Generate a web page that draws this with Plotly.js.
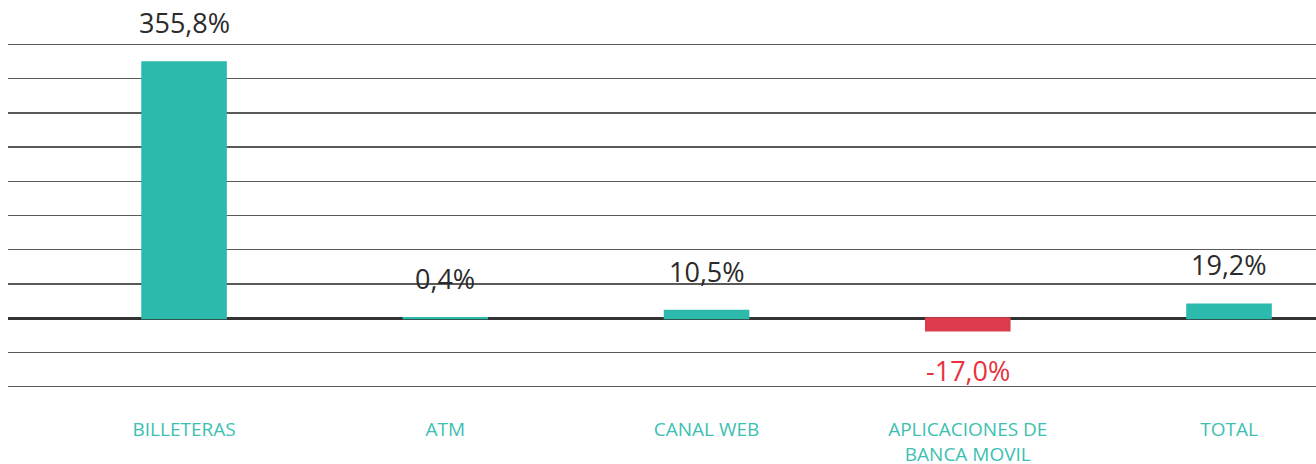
<!DOCTYPE html>
<html>
<head>
<meta charset="utf-8">
<script src="https://cdn.plot.ly/plotly-3.0.1.min.js"></script>
<style>
  html, body { margin: 0; padding: 0; background: #fff; }
  #chart { width: 1316px; height: 464px; }
</style>
</head>
<body>
<div id="chart"></div>
<script>
// --- Data ---
const categories = ['BILLETERAS', 'ATM', 'CANAL WEB', 'APLICACIONES DE BANCA MOVIL', 'TOTAL'];
const tickLabels = ['BILLETERAS', 'ATM', 'CANAL WEB', 'APLICACIONES DE<br>BANCA MOVIL', 'TOTAL'];
const variation = [355.8, 0.4, 10.5, -17.0, 19.2];

// --- Colors ---
const teal = '#2cbaad';
const red = '#de3b4e';
const barColors = variation.map(v => v < 0 ? red : teal);

const fmt = v => v.toFixed(1).replace('.', ',') + '%';

const trace = {
    type: 'bar',
    x: categories,
    y: variation,
    width: 0.32,
    marker: { color: barColors, line: { color: barColors, width: 2 } },
    hoverinfo: 'skip'
};

// value labels above (or below) each bar
const annotations = variation.map((v, i) => ({
    x: categories[i],
    y: v,
    xref: 'x',
    yref: 'y',
    text: fmt(v),
    showarrow: false,
    yanchor: v < 0 ? 'top' : 'bottom',
    yshift: v < 0 ? -20 : 19,
    font: { family: 'Open Sans, sans-serif', size: 27, color: v < 0 ? '#e8323f' : '#2b2b2b' }
}));

const layout = {
    width: 1316,
    height: 464,
    margin: { l: 8, r: 0, t: 43, b: 76, pad: 0 },
    paper_bgcolor: '#ffffff',
    plot_bgcolor: '#ffffff',
    showlegend: false,
    bargap: 0,
    xaxis: {
        type: 'category',
        range: [-0.674, 4.333],
        tickvals: categories,
        ticktext: tickLabels,
        showgrid: false,
        zeroline: false,
        showline: false,
        ticks: 'outside',
        ticklen: 24,
        tickcolor: 'rgba(0,0,0,0)',
        tickfont: { family: 'Open Sans, sans-serif', size: 19, color: '#3dbfb2' },
        fixedrange: true
    },
    yaxis: {
        range: [-97, 382.6],
        tick0: 0,
        dtick: 47.6,
        showticklabels: false,
        showgrid: true,
        gridcolor: '#5a5a5a',
        gridwidth: 1.5,
        zeroline: true,
        zerolinecolor: '#333333',
        zerolinewidth: 3,
        showline: false,
        fixedrange: true
    },
    annotations: annotations
};

Plotly.newPlot('chart', [trace], layout, { displayModeBar: false, staticPlot: true });
</script>
</body>
</html>
